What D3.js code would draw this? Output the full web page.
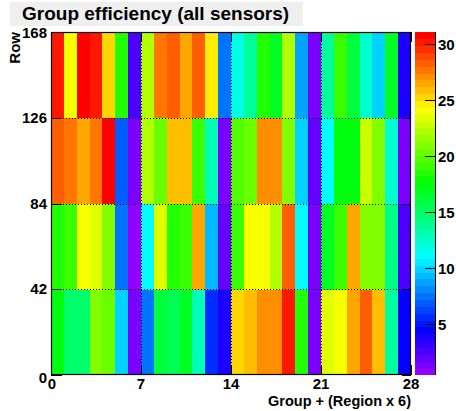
<!DOCTYPE html>
<html><head><meta charset="utf-8">
<script src="https://cdn.jsdelivr.net/npm/d3@7"></script>
<style>body{margin:0;background:#fff}svg{display:block;font-family:"Liberation Sans",Arial,sans-serif;font-weight:bold}</style>
</head><body><svg id="c" width="456" height="411"></svg>
<script>
const title = "Group efficiency (all sensors)";
const xLabel = "Group + (Region x 6)";
const yLabel = "Row";
const xTicks = [0, 7, 14, 21, 28];
const yTicks = [0, 42, 84, 126, 168];
const zTicks = [5, 10, 15, 20, 25, 30];
const zRange = [0.45, 31.07];
const rowEdges = [0, 42, 84, 126, 168];
// values per row, group 0..27 ; row 0 = bottom (0-42)
const row0 = [17.2,14.8,14.8,21.2,20.1,10.1,1.3,7.6,16.0,15.5,16.6,13.3,5.5,4.0,25.3,25.6,27.2,27.2,30.1,18.7,1.6,23.4,24.0,26.4,28.5,25.6,13.8,4.2];
const row1 = [18.7,19.3,24.0,23.4,21.2,7.6,0.8,11.0,23.4,18.7,19.3,26.4,9.4,2.2,19.3,23.8,23.8,22.3,28.5,11.0,1.6,16.5,19.3,26.6,21.2,21.2,14.1,2.8];
const row2 = [28.5,27.8,26.6,27.8,30.7,7.0,1.6,22.0,20.2,25.6,25.6,19.1,12.9,1.6,19.7,20.1,27.2,27.2,21.2,10.1,2.0,11.0,17.4,17.4,22.5,21.0,12.3,1.6];
const row3 = [30.1,24.0,30.7,30.1,25.3,18.6,2.8,22.3,27.9,28.5,26.4,28.3,24.6,7.2,11.6,13.8,18.8,16.4,22.0,8.9,1.2,13.5,19.0,16.0,12.4,10.1,16.6,3.8];
const rows = [row0, row1, row2, row3];

const svg = d3.select("#c");
const L = 51, R = 411, T = 32, B = 375;
const x = d3.scaleLinear().domain([0, 28]).range([L, R]);
const y = d3.scaleLinear().domain([0, 168]).range([B, T]);

// ROOT "pretty" palette: 50 colours
const nCol = 50;
const palette = d3.range(nCol).map(i => d3.hsl(280 - (i + 1) * (280 / nCol), 1, 0.5).formatHex());
const color = d3.scaleQuantize().domain(zRange).range(palette);

// title box
svg.append("rect").attr("x", 10).attr("y", 2).attr("width", 293).attr("height", 24).attr("fill", "#efefef");
svg.append("text").attr("x", 22).attr("y", 20).attr("font-size", 19).text(title);

// cells
const cells = [];
rows.forEach((r, j) => r.forEach((v, i) => cells.push({i, j, v})));
svg.append("g").selectAll("rect").data(cells).join("rect")
  .attr("x", d => x(d.i))
  .attr("y", d => y(rowEdges[d.j + 1]))
  .attr("width", d => x(d.i + 1) - x(d.i) + 0.3)
  .attr("height", d => y(rowEdges[d.j]) - y(rowEdges[d.j + 1]) + 0.3)
  .attr("fill", d => color(d.v))
  .attr("shape-rendering", "crispEdges");

// grid
const g = svg.append("g").attr("stroke", "#000").attr("stroke-width", 1).attr("stroke-dasharray", "1,2");
xTicks.slice(1, -1).forEach(t => g.append("line").attr("x1", Math.round(x(t)) + 0.5).attr("x2", Math.round(x(t)) + 0.5).attr("y1", T).attr("y2", B));
yTicks.slice(1, -1).forEach(t => g.append("line").attr("y1", Math.round(y(t)) + 0.5).attr("y2", Math.round(y(t)) + 0.5).attr("x1", L).attr("x2", R));

// ticks
const tk = svg.append("g").attr("stroke", "#000").attr("stroke-width", 1);
xTicks.forEach(t => {
  const px = Math.round(x(t)) + 0.5;
  tk.append("line").attr("x1", px).attr("x2", px).attr("y1", B).attr("y2", B - 10);
  tk.append("line").attr("x1", px).attr("x2", px).attr("y1", T).attr("y2", T + 10);
});
yTicks.forEach(t => {
  const py = Math.round(y(t)) + 0.5;
  tk.append("line").attr("x1", L).attr("x2", L + 11).attr("y1", py).attr("y2", py);
  tk.append("line").attr("x1", R).attr("x2", R - 9).attr("y1", py).attr("y2", py);
});

// frame
svg.append("rect").attr("x", L + 0.5).attr("y", T + 0.5).attr("width", R - L - 1).attr("height", B - T - 1)
  .attr("fill", "none").attr("stroke", "#000").attr("stroke-width", 1.2);

// axis labels
svg.append("g").selectAll("text").data(xTicks).join("text")
  .attr("x", d => x(d) + (d === 0 ? 1 : 0)).attr("y", 389).attr("text-anchor", "middle").attr("font-size", 15).text(d => d);
svg.append("g").selectAll("text").data(yTicks).join("text")
  .attr("x", 47).attr("y", d => y(d) + 5 + (d === 0 ? 3 : 0) + (d === 168 ? 1 : 0)).attr("text-anchor", "end").attr("font-size", 15).text(d => d);
svg.append("text").attr("x", 411).attr("y", 406).attr("text-anchor", "end").attr("font-size", 14.5).text(xLabel);
svg.append("text").attr("transform", "translate(20,32) rotate(-90)").attr("text-anchor", "end").attr("font-size", 15).text(yLabel);

// colour bar
const CL = 415, CR = 435;
const zc = d3.scaleLinear().domain(zRange).range([B, T]);
const step = (zRange[1] - zRange[0]) / nCol;
svg.append("g").selectAll("rect").data(palette).join("rect")
  .attr("x", CL).attr("width", CR - CL)
  .attr("y", (c, i) => zc(zRange[0] + (i + 1) * step))
  .attr("height", (c, i) => zc(zRange[0] + i * step) - zc(zRange[0] + (i + 1) * step) + 0.4)
  .attr("fill", c => c).attr("shape-rendering", "crispEdges");
svg.append("line").attr("x1", CR + 0.5).attr("x2", CR + 0.5).attr("y1", T).attr("y2", B).attr("stroke", "#000");
const zg = svg.append("g");
zTicks.forEach(t => {
  const py = Math.round(zc(t)) + 0.5;
  zg.append("line").attr("x1", CR).attr("x2", CR - 10).attr("y1", py).attr("y2", py).attr("stroke", "#000");
  zg.append("text").attr("x", 438).attr("y", py + 5).attr("font-size", 15).text(t);
});
</script></body></html>
